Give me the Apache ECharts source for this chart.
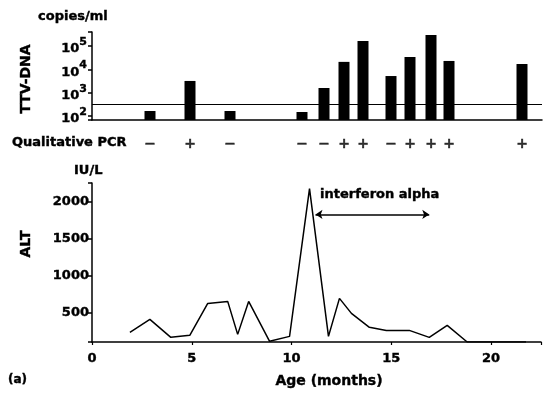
<!DOCTYPE html>
<html>
<head>
<meta charset="utf-8">
<script src="https://cdn.jsdelivr.net/npm/echarts@6/dist/echarts.min.js"></script>
<style>
  html, body { margin: 0; padding: 0; background: #fff; }
  #chart { width: 544px; height: 405px; }
</style>
</head>
<body>
<div id="chart"></div>
<script>
// TTV-DNA (copies/ml) by age in months, with the qualitative PCR result
const dnaMonths = [2.9, 4.9, 6.9, 10.5, 11.6, 12.6, 13.55, 14.95, 15.9, 16.95, 17.85, 21.5];
const dnaCopies = [165, 3200, 165, 150, 1600, 21000, 165000, 5200, 34000, 300000, 23000, 17000];
const pcrResult = ["−", "+", "−", "−", "−", "+", "+", "−", "+", "+", "+", "+"];
const cutoff = 330;

// ALT (IU/L) by age in months
const altMonths = [1.9, 2.9, 3.95, 4.9, 5.8, 6.8, 7.3, 7.85, 8.9, 9.9, 10.9, 11.85, 12.4, 13.0, 13.9, 14.75, 15.9, 16.9, 17.8, 18.8, 21.75];
const altValues = [230, 405, 163, 190, 622, 649, 203, 649, 109, 176, 2175, 176, 690, 487, 298, 257, 257, 163, 325, 100, 100];

// interferon alpha treatment period (months) and where the arrow sits
const interferon = [11.2, 16.9];
const arrowLevel = 1825;

const ageTicks = [0, 5, 10, 15, 20];
const altTicks = [500, 1000, 1500, 2000];
const dnaExponents = [2, 3, 4, 5];

const FONT = '"DejaVu Sans", "Liberation Sans", sans-serif';
const black = "#000";
// a thin outline makes the text look as heavy as the printed figure
const heavy = { textBorderColor: black, textBorderWidth: 0.4 };

const myChart = echarts.init(document.getElementById("chart"));

const axisLine = { show: true, lineStyle: { color: black, width: 1.5 } };

const option = {
  backgroundColor: "#fff",
  animation: false,
  grid: [
    { left: 92, right: 2, top: 32, height: 88 },
    { left: 92, right: 2, top: 134, height: 20 },
    { left: 92, right: 2, top: 183, height: 159 },
  ],
  xAxis: [
    {
      gridIndex: 0, type: "value", min: 0, max: 22.5,
      axisLine: axisLine, axisTick: { show: false }, axisLabel: { show: false },
      splitLine: { show: false },
    },
    {
      gridIndex: 1, type: "value", min: 0, max: 22.5, show: false,
    },
    {
      gridIndex: 2, type: "value", min: 0, max: 22.5, interval: 5,
      axisLine: axisLine,
      axisTick: { show: true, length: 3, lineStyle: { color: black, width: 1.2 } },
      splitLine: { show: false },
      axisLabel: {
        color: black, fontFamily: FONT, fontWeight: "bold", fontSize: 13, margin: 10, ...heavy,
        formatter: (v) => (ageTicks.includes(v) ? String(v) : ""),
      },
    },
  ],
  yAxis: [
    {
      gridIndex: 0, type: "log", logBase: 10, min: 68, max: 400000,
      axisLine: axisLine,
      axisTick: { show: true, length: 4, lineStyle: { color: black, width: 1.5 } },
      splitLine: { show: false },
      axisLabel: {
        color: black, margin: 5,
        formatter: (v) => {
          const e = Math.round(Math.log10(v));
          if (Math.abs(Math.log10(v) - e) > 0.01 || !dnaExponents.includes(e)) return "";
          return "{a|10}{b|" + e + "}";
        },
        rich: {
          a: { fontFamily: FONT, fontWeight: "bold", fontSize: 13, color: black, lineHeight: 19, verticalAlign: "bottom", ...heavy },
          b: { fontFamily: FONT, fontWeight: "bold", fontSize: 11, color: black, lineHeight: 19, verticalAlign: "top", ...heavy },
        },
      },
    },
    {
      gridIndex: 1, type: "value", min: 0, max: 1, show: false,
    },
    {
      gridIndex: 2, type: "value", min: 100, max: 2250,
      axisLine: axisLine,
      axisTick: { show: true, length: 4, lineStyle: { color: black, width: 1.5 } },
      splitLine: { show: false },
      axisLabel: {
        color: black, fontFamily: FONT, fontWeight: "bold", fontSize: 13, margin: 3, ...heavy,
        formatter: (v) => (altTicks.includes(v) ? String(v) : ""),
      },
    },
  ],
  series: [
    {
      name: "TTV-DNA",
      type: "bar",
      xAxisIndex: 0, yAxisIndex: 0,
      barWidth: 11,
      clip: true,
      itemStyle: { color: black },
      data: dnaMonths.map((m, i) => [m, dnaCopies[i]]),
      markLine: {
        silent: true, symbol: "none", label: { show: false },
        lineStyle: { color: black, width: 1.2, type: "solid" },
        data: [{ yAxis: cutoff }],
      },
    },
    {
      name: "Qualitative PCR",
      type: "scatter",
      xAxisIndex: 1, yAxisIndex: 1,
      symbolSize: 1,
      itemStyle: { color: "rgba(0,0,0,0)" },
      label: {
        show: true, position: "inside", color: black,
        fontFamily: FONT, fontWeight: "bold", fontSize: 14, ...heavy,
        formatter: (p) => pcrResult[p.dataIndex],
      },
      data: dnaMonths.map((m) => [m, 0.5]),
    },
    {
      name: "ALT",
      type: "line",
      xAxisIndex: 2, yAxisIndex: 2,
      symbol: "none",
      lineStyle: { color: black, width: 1.5 },
      data: altMonths.map((m, i) => [m, altValues[i]]),
      markLine: {
        silent: true, symbol: ["arrow", "arrow"], symbolSize: 7,
        label: { show: false },
        lineStyle: { color: black, width: 1.5, type: "solid" },
        data: [[{ coord: [interferon[0], arrowLevel] }, { coord: [interferon[1], arrowLevel] }]],
      },
    },
  ],
  graphic: [
    { type: "text", x: 38, y: 17, style: { text: "copies/ml", font: "bold 13px " + FONT, fill: black, stroke: black, lineWidth: 0.4, verticalAlign: "middle" } },
    { type: "text", x: 26, y: 79, rotation: Math.PI / 2, style: { text: "TTV-DNA", font: "bold 14px " + FONT, fill: black, stroke: black, lineWidth: 0.4, align: "center", verticalAlign: "middle" } },
    { type: "text", x: 12, y: 143, style: { text: "Qualitative PCR", font: "bold 13px " + FONT, fill: black, stroke: black, lineWidth: 0.4, verticalAlign: "middle" } },
    { type: "text", x: 74, y: 171, style: { text: "IU/L", font: "bold 13px " + FONT, fill: black, stroke: black, lineWidth: 0.4, verticalAlign: "middle" } },
    { type: "text", x: 26, y: 244, rotation: Math.PI / 2, style: { text: "ALT", font: "bold 14px " + FONT, fill: black, stroke: black, lineWidth: 0.4, align: "center", verticalAlign: "middle" } },
    { type: "text", x: 320, y: 195, style: { text: "interferon alpha", font: "bold 13px " + FONT, fill: black, stroke: black, lineWidth: 0.4, verticalAlign: "middle" } },
    { type: "text", x: 329, y: 381, style: { text: "Age (months)", font: "bold 14px " + FONT, fill: black, stroke: black, lineWidth: 0.4, align: "center", verticalAlign: "middle" } },
    { type: "text", x: 8, y: 380, style: { text: "(a)", font: "bold 12px " + FONT, fill: black, stroke: black, lineWidth: 0.4, verticalAlign: "middle" } },
  ],
};

myChart.setOption(option);
</script>
</body>
</html>
